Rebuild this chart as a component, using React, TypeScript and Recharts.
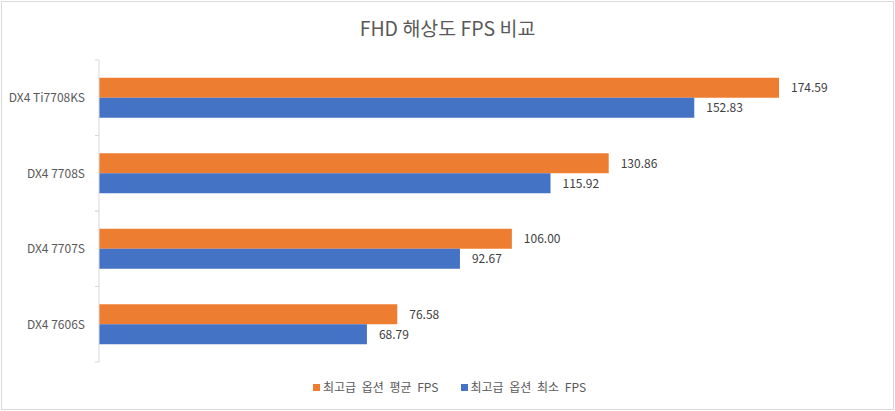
import React from 'react';
import { BarChart, Bar, XAxis, YAxis, Legend, LabelList } from 'recharts';

const categories = ['DX4 Ti7708KS', 'DX4 7708S', 'DX4 7707S', 'DX4 7606S'];
const avgFps = [174.59, 130.86, 106.0, 76.58];
const minFps = [152.83, 115.92, 92.67, 68.79];
const seriesNames = ['최고급 옵션 평균 FPS', '최고급 옵션 최소 FPS'];
const seriesColors = ['#ED7D31', '#4472C4'];
const xDomain = [0, 200];
const title = 'FHD 해상도 FPS 비교';

const FONT = '"Noto Sans CJK KR", "Noto Sans", sans-serif';
const TICK_MARGIN = 14;
const TICK_LEN = 4;

const data = categories.map((name, i) => ({ name, avg: avgFps[i], min: minFps[i] }));

const fmt = (v: any) => Number(v).toFixed(2);

const CategoryTick = (props: any) => {
  const { x, y, payload } = props;
  const half = payload && payload.offset ? payload.offset : 0;
  const ax = x + TICK_MARGIN;
  return (
    <g>
      {half > 0 && (
        <>
          <line x1={ax - TICK_LEN} x2={ax} y1={y - half} y2={y - half} stroke="#D9D9D9" />
          <line x1={ax - TICK_LEN} x2={ax} y1={y + half} y2={y + half} stroke="#D9D9D9" />
        </>
      )}
      <text x={x} y={y} dy="0.355em" textAnchor="end" fontSize={12} fill="#595959" fontFamily={FONT}>
        {payload.value}
      </text>
    </g>
  );
};

const renderLegend = (props: any) => {
  const payload = [...(props.payload || [])].sort(
    (a: any, b: any) => seriesNames.indexOf(a.value) - seriesNames.indexOf(b.value)
  );
  return (
    <div
      style={{
        display: 'flex',
        justifyContent: 'center',
        alignItems: 'flex-end',
        height: 34,
        paddingBottom: 1,
        boxSizing: 'border-box',
        fontSize: 12,
        wordSpacing: 3,
        color: '#595959',
        fontFamily: FONT,
      }}
    >
      {payload.map((e: any, i: number) => (
        <span
          key={i}
          style={{ display: 'flex', alignItems: 'center', marginRight: i === 0 ? 22 : 0, lineHeight: '16px' }}
        >
          <span style={{ display: 'inline-block', width: 7, height: 7, background: e.color, marginRight: 3 }} />
          {e.value}
        </span>
      ))}
    </div>
  );
};

export default function App() {
  return (
    <div style={{ position: 'absolute', left: 0, top: 0, width: 895, height: 411, background: '#fff', fontFamily: FONT }}>
      <div
        style={{
          position: 'absolute',
          left: 1,
          top: 1,
          width: 893,
          height: 409,
          border: '1px solid #D9D9D9',
          boxSizing: 'border-box',
        }}
      />
      <div
        style={{
          position: 'absolute',
          left: 0,
          top: 0,
          width: 895,
          height: 56,
          lineHeight: '56px',
          textAlign: 'center',
          fontSize: 19.5,
          color: '#595959',
          fontFamily: FONT,
        }}
      >
        {title}
      </div>
      <div style={{ position: 'absolute', left: 0, top: 0 }}>
        <BarChart
          width={895}
          height={411}
          data={data}
          layout="vertical"
          margin={{ top: 60, right: 17, left: 0, bottom: 15 }}
          barCategoryGap="23.5%"
          barGap={0}
        >
          <XAxis type="number" domain={xDomain} hide />
          <YAxis
            type="category"
            dataKey="name"
            width={99}
            tickLine={false}
            tickSize={0}
            tickMargin={TICK_MARGIN}
            axisLine={{ stroke: '#D9D9D9' }}
            tick={<CategoryTick />}
          />
          <Legend verticalAlign="bottom" content={renderLegend} wrapperStyle={{ left: 0, width: 899 }} />
          <Bar dataKey="avg" name={seriesNames[0]} fill={seriesColors[0]} isAnimationActive={false}>
            <LabelList
              dataKey="avg"
              position="right"
              offset={12}
              formatter={fmt}
              style={{ fontSize: 12, fill: '#404040', fontFamily: FONT }}
            />
          </Bar>
          <Bar dataKey="min" name={seriesNames[1]} fill={seriesColors[1]} isAnimationActive={false}>
            <LabelList
              dataKey="min"
              position="right"
              offset={12}
              formatter={fmt}
              style={{ fontSize: 12, fill: '#404040', fontFamily: FONT }}
            />
          </Bar>
        </BarChart>
      </div>
    </div>
  );
}
